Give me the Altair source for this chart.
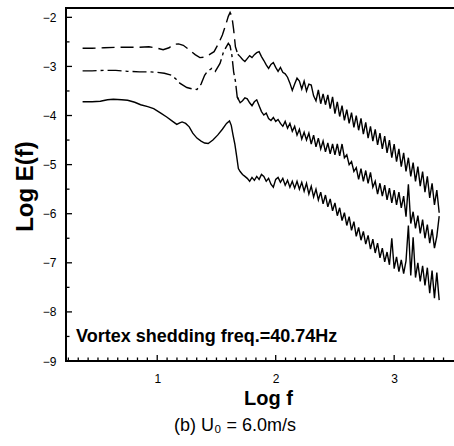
import altair as alt
import pandas as pd

# ---------------- data ----------------
TOP_X_SMOOTH = [0.37, 0.45, 0.55, 0.65, 0.75, 0.85, 0.93, 1.00, 1.05, 1.10,
                1.14, 1.18, 1.22, 1.27, 1.32, 1.36, 1.40, 1.44, 1.48, 1.52,
                1.55, 1.58, 1.60, 1.615, 1.63, 1.645, 1.66, 1.68]
TOP_Y_SMOOTH = [-2.63, -2.63, -2.62, -2.61, -2.61, -2.61, -2.60, -2.63, -2.66, -2.62,
                -2.55, -2.54, -2.57, -2.66, -2.76, -2.82, -2.81, -2.76, -2.70, -2.52,
                -2.36, -2.14, -1.98, -1.90, -1.98, -2.25, -2.60, -2.75]

MID_X_SMOOTH = [0.37, 0.45, 0.55, 0.65, 0.75, 0.85, 0.93, 1.00, 1.06, 1.12,
                1.16, 1.19, 1.25, 1.30, 1.335, 1.37, 1.40, 1.42, 1.46, 1.49,
                1.53, 1.56, 1.60, 1.615, 1.63, 1.645, 1.66, 1.675]
MID_Y_SMOOTH = [-3.09, -3.09, -3.08, -3.08, -3.10, -3.11, -3.11, -3.12, -3.14, -3.18,
                -3.26, -3.34, -3.43, -3.46, -3.47, -3.36, -3.18, -3.11, -3.04, -3.10,
                -2.94, -2.70, -2.53, -2.58, -2.77, -3.11, -3.30, -3.62]

BOT_X_SMOOTH = [0.37, 0.45, 0.52, 0.58, 0.63, 0.70, 0.75, 0.81, 0.86, 0.92,
                0.97, 1.03, 1.08, 1.13, 1.165, 1.19, 1.21, 1.24, 1.27, 1.30,
                1.335, 1.37, 1.40, 1.43, 1.47, 1.51, 1.55, 1.585, 1.61, 1.625,
                1.64, 1.655, 1.67, 1.685]
BOT_Y_SMOOTH = [-3.72, -3.72, -3.71, -3.68, -3.67, -3.68, -3.69, -3.73, -3.78, -3.82,
                -3.86, -3.95, -4.03, -4.12, -4.18, -4.15, -4.13, -4.16, -4.23, -4.36,
                -4.46, -4.52, -4.56, -4.57, -4.50, -4.40, -4.28, -4.16, -4.11, -4.20,
                -4.40, -4.58, -4.82, -5.08]

NOISE_X = [1.70, 1.72, 1.74, 1.76, 1.78, 1.80, 1.82, 1.84, 1.86, 1.88,
           1.90, 1.92, 1.94, 1.96, 1.98, 2.00, 2.02, 2.04, 2.06, 2.08,
           2.10, 2.12, 2.14, 2.16, 2.18, 2.20, 2.22, 2.24, 2.26, 2.28,
           2.30, 2.32, 2.34, 2.36, 2.38, 2.40, 2.42, 2.44, 2.46, 2.48,
           2.50, 2.52, 2.54, 2.56, 2.58, 2.60, 2.62, 2.64, 2.66, 2.68,
           2.70, 2.72, 2.74, 2.76, 2.78, 2.80, 2.82, 2.84, 2.86, 2.88,
           2.90, 2.92, 2.94, 2.96, 2.98, 3.00, 3.02, 3.04, 3.06, 3.08,
           3.10, 3.12, 3.14, 3.16, 3.18, 3.20, 3.22, 3.24, 3.26, 3.28,
           3.30, 3.32, 3.34, 3.36, 3.38]

TOP_Y_NOISE = [-2.80, -2.86, -2.90, -2.84, -2.78, -2.82, -2.76, -2.72, -2.70, -2.80,
               -2.88, -2.97, -3.04, -2.96, -2.92, -3.02, -3.10, -3.02, -3.12, -3.15,
               -3.22, -3.34, -3.49, -3.36, -3.24, -3.30, -3.46, -3.30, -3.50, -3.36,
               -3.38, -3.60, -3.70, -3.48, -3.76, -3.56, -3.78, -3.58, -3.86, -3.62,
               -3.96, -3.72, -4.02, -3.80, -4.10, -3.88, -4.16, -3.94, -4.24, -4.00,
               -4.30, -4.06, -4.38, -4.14, -4.46, -4.22, -4.52, -4.28, -4.60, -4.36,
               -4.68, -4.42, -4.76, -4.50, -4.86, -4.58, -4.94, -4.68, -5.04, -4.76,
               -5.14, -4.86, -5.24, -4.96, -5.34, -5.04, -5.44, -5.14, -5.56, -5.24,
               -5.68, -5.38, -5.82, -5.52, -5.98]

MID_Y_NOISE = [-3.74, -3.70, -3.64, -3.66, -3.74, -3.80, -3.72, -3.68, -3.80, -3.92,
               -3.99, -3.95, -4.06, -4.10, -4.04, -4.12, -4.08, -4.16, -4.22, -4.12,
               -4.26, -4.16, -4.32, -4.22, -4.40, -4.28, -4.48, -4.34, -4.50, -4.36,
               -4.58, -4.40, -4.64, -4.46, -4.68, -4.52, -4.74, -4.56, -4.78, -4.58,
               -4.80, -4.58, -4.82, -4.58, -4.86, -4.80, -5.00, -4.94, -5.14, -5.06,
               -5.30, -5.08, -5.34, -5.12, -5.38, -5.16, -5.46, -5.34, -5.60, -5.38,
               -5.64, -5.42, -5.72, -5.48, -5.78, -5.52, -5.82, -5.56, -5.88, -5.64,
               -6.06, -5.40, -6.20, -5.96, -6.30, -6.04, -6.40, -6.12, -6.50, -6.22,
               -6.60, -6.32, -6.70, -6.46, -6.05]

BOT_Y_NOISE = [-5.14, -5.20, -5.24, -5.28, -5.34, -5.26, -5.32, -5.24, -5.30, -5.20,
               -5.24, -5.34, -5.28, -5.40, -5.46, -5.30, -5.26, -5.36, -5.28, -5.42,
               -5.32, -5.46, -5.34, -5.48, -5.34, -5.50, -5.36, -5.54, -5.38, -5.60,
               -5.44, -5.66, -5.50, -5.72, -5.56, -5.80, -5.62, -5.86, -5.70, -5.94,
               -5.78, -6.04, -5.88, -6.14, -5.98, -6.24, -6.06, -6.34, -6.16, -6.46,
               -6.28, -6.54, -6.36, -6.62, -6.44, -6.72, -6.52, -6.80, -6.60, -6.90,
               -6.70, -6.98, -6.78, -7.04, -6.50, -7.12, -6.88, -7.18, -6.94, -7.22,
               -6.96, -6.24, -7.26, -6.48, -7.30, -7.00, -7.38, -7.06, -7.46, -7.10,
               -7.62, -7.16, -7.72, -7.20, -7.76]

Y_MAJOR = [-9, -8, -7, -6, -5, -4, -3, -2]
Y_MINOR = [-8.5, -7.5, -6.5, -5.5, -4.5, -3.5, -2.5]
X_MAJOR = [1, 2, 3]
X_MINOR = [0.25, 0.3333, 0.4167, 0.5, 0.5833, 0.6667, 0.75, 0.8333, 0.9167,
           1.0833, 1.1667, 1.25, 1.3333, 1.4167, 1.5, 1.5833, 1.6667, 1.75, 1.8333, 1.9167,
           2.0833, 2.1667, 2.25, 2.3333, 2.4167, 2.5, 2.5833, 2.6667, 2.75, 2.8333, 2.9167,
           3.0833, 3.1667, 3.25, 3.3333, 3.4167]

X_DOMAIN = [0.23, 3.505]
Y_DOMAIN = [-9, -1.81]

ANNOTATION = "Vortex shedding freq.=40.74Hz"
CAPTION = "(b) U\u2080 = 6.0m/s"

# ---------------- chart ----------------
W, H = 388, 353
FONT = "Liberation Sans"
LW = 1.4
PX_X = (X_DOMAIN[1] - X_DOMAIN[0]) / W   # data units per pixel
PX_Y = (Y_DOMAIN[1] - Y_DOMAIN[0]) / H

xs = alt.Scale(domain=X_DOMAIN, nice=False, zero=False)
ys = alt.Scale(domain=Y_DOMAIN, nice=False, zero=False)

df_top_s = pd.DataFrame({"x": TOP_X_SMOOTH + NOISE_X[:1], "y": TOP_Y_SMOOTH + TOP_Y_NOISE[:1]})
df_top_n = pd.DataFrame({"x": TOP_X_SMOOTH[-1:] + NOISE_X, "y": TOP_Y_SMOOTH[-1:] + TOP_Y_NOISE})
df_mid_s = pd.DataFrame({"x": MID_X_SMOOTH + NOISE_X[:1], "y": MID_Y_SMOOTH + MID_Y_NOISE[:1]})
df_mid_n = pd.DataFrame({"x": MID_X_SMOOTH[-1:] + NOISE_X, "y": MID_Y_SMOOTH[-1:] + MID_Y_NOISE})
df_bot = pd.DataFrame({"x": BOT_X_SMOOTH + NOISE_X, "y": BOT_Y_SMOOTH + BOT_Y_NOISE})

x_axis = alt.Axis(values=X_MAJOR, format="d", title="Log f", ticks=False, tickSize=0,
                  grid=False, domain=False,
                  labelFont=FONT, labelFontSize=12, labelColor="black", labelPadding=12,
                  titleFont=FONT, titleFontSize=20, titleFontWeight="bold", titleColor="black",
                  titleX=202, titleY=27, titleBaseline="top", titleAlign="center")
y_axis = alt.Axis(values=Y_MAJOR, format="d", title="Log E(f)", ticks=False, tickSize=0,
                  grid=False, domain=False,
                  labelFont=FONT, labelFontSize=12, labelColor="black", labelPadding=10,
                  titleFont=FONT, titleFontSize=24, titleFontWeight="bold", titleColor="black",
                  titleAngle=270, titleX=-53, titleY=178, titleBaseline="top", titleAlign="center")


def line(df, dash=None, width=LW, order=False, detail=False):
    kw = dict(color="black", strokeWidth=width)
    if dash:
        kw["strokeDash"] = dash
    enc = dict(x=alt.X("x:Q", scale=xs, axis=x_axis), y=alt.Y("y:Q", scale=ys, axis=y_axis))
    if order:
        enc["order"] = alt.Order("o:Q")
    if detail:
        enc["detail"] = "id:N"
    return alt.Chart(df).mark_line(**kw).encode(**enc)


top_s = line(df_top_s, [13, 6])
top_n = line(df_top_n)
mid_s = line(df_mid_s, [14, 4, 3, 4])
mid_n = line(df_mid_n)
bot = line(df_bot)

# frame: left, top and bottom edges of the plot box
frame_df = pd.DataFrame({
    "x": [X_DOMAIN[1], X_DOMAIN[0], X_DOMAIN[0], X_DOMAIN[1]],
    "y": [Y_DOMAIN[1], Y_DOMAIN[1], Y_DOMAIN[0], Y_DOMAIN[0]],
    "o": [0, 1, 2, 3],
})
frame = line(frame_df, width=2, order=True)

# inward ticks
rows = []
for i, v in enumerate(Y_MAJOR):
    rows += [{"id": f"ym{i}", "x": X_DOMAIN[0], "y": v}, {"id": f"ym{i}", "x": X_DOMAIN[0] + 6 * PX_X, "y": v}]
for i, v in enumerate(Y_MINOR):
    rows += [{"id": f"yn{i}", "x": X_DOMAIN[0], "y": v}, {"id": f"yn{i}", "x": X_DOMAIN[0] + 3.5 * PX_X, "y": v}]
for i, v in enumerate(X_MAJOR):
    rows += [{"id": f"xm{i}", "x": v, "y": Y_DOMAIN[0]}, {"id": f"xm{i}", "x": v, "y": Y_DOMAIN[0] + 6 * PX_Y}]
for i, v in enumerate(X_MINOR):
    rows += [{"id": f"xn{i}", "x": v, "y": Y_DOMAIN[0]}, {"id": f"xn{i}", "x": v, "y": Y_DOMAIN[0] + 3.5 * PX_Y}]
ticks = line(pd.DataFrame(rows), width=1.3, detail=True)

annot = alt.Chart(pd.DataFrame({"t": [ANNOTATION]})).mark_text(
    font=FONT, fontSize=18, fontWeight="bold", color="black", align="left", baseline="alphabetic"
).encode(text="t:N", x=alt.value(10), y=alt.value(334))

caption = alt.Chart(pd.DataFrame({"t": [CAPTION]})).mark_text(
    font=FONT, fontSize=18, color="black", align="center", baseline="middle"
).encode(text="t:N", x=alt.value(169), y=alt.value(418))

chart = alt.layer(frame, ticks, top_s, top_n, mid_s, mid_n, bot, annot, caption).properties(
    width=W, height=H,
    padding={"left": 66, "top": 8, "right": 0, "bottom": 85},
    autosize=alt.AutoSizeParams(type="none"),
    background="white",
).configure_view(stroke=None)

chart.save("out.html", embed_options={"renderer": "svg", "actions": False})
